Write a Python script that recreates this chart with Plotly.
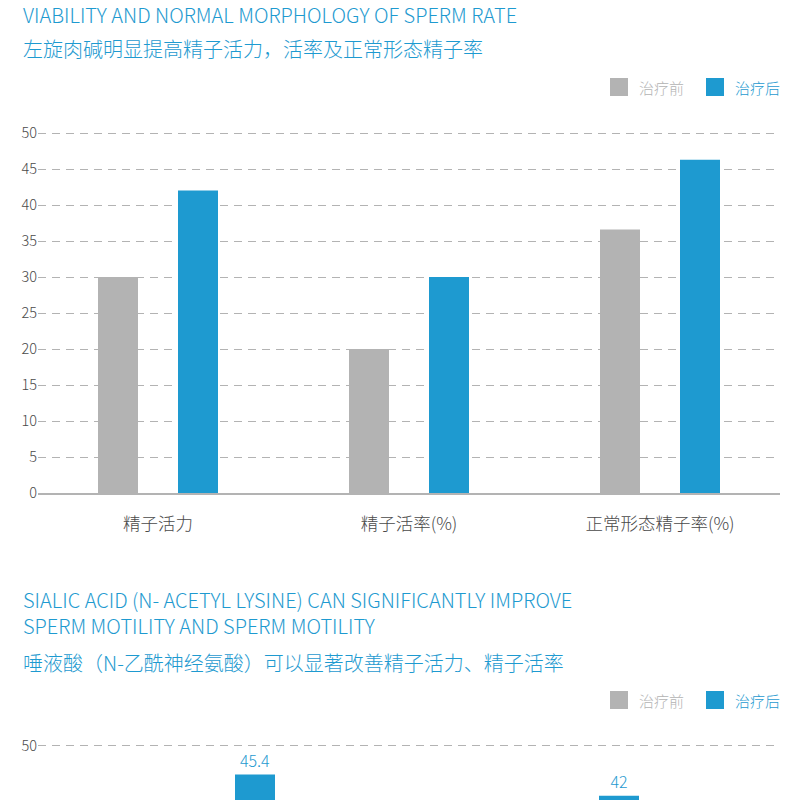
import plotly.graph_objects as go

# chart 1 data
cats_top = ["精子活力", "精子活率(%)", "正常形态精子率(%)"]
before_top = [30, 20, 36.6]
after_top = [42, 30, 46.3]

# chart 2 data (only the top of it is on screen)
cats_bot = ["精子活力", "精子活率"]
before_bot = [28.5, 24.6]
after_bot = [45.4, 42]

series_names = ["治疗前", "治疗后"]
yticks_top = [0, 5, 10, 15, 20, 25, 30, 35, 40, 45, 50]

GRAY = "#b3b3b3"
BLUE = "#1e9ad0"
TXT = "#4a4a4a"
FONT = "Noto Sans CJK SC"

W, H = 800, 800
L, R = 38, 20
PW = W - L - R


def px(x):
    return (x - L) / PW


def py(y):
    return 1 - y / H


fig = go.Figure()

# top chart: 251 px per category
u1 = 251.0
for vals, col, off in [(before_top, GRAY, -60), (after_top, BLUE, 20)]:
    fig.add_trace(go.Bar(x=cats_top, y=vals, marker=dict(color=col, line=dict(width=0)),
                         width=40 / u1, offset=off / u1, xaxis="x", yaxis="y",
                         showlegend=False, hoverinfo="y"))

# bottom chart: 364 px per category, value labels on the blue bars
u2 = 364.0
fig.add_trace(go.Bar(x=cats_bot, y=before_bot, marker=dict(color=GRAY, line=dict(width=0)),
                     width=40 / u2, offset=-60 / u2, xaxis="x2", yaxis="y2",
                     showlegend=False, hoverinfo="y"))
fig.add_trace(go.Bar(x=cats_bot, y=after_bot, marker=dict(color=BLUE, line=dict(width=0)),
                     width=40 / u2, offset=20 / u2, xaxis="x2", yaxis="y2",
                     texttemplate="%{y}", textposition="outside",
                     textfont=dict(color=BLUE, size=16, family=FONT, weight=300),
                     cliponaxis=True, showlegend=False, hoverinfo="y"))

r0 = 1 - (409 - L) / u1
r0b = -(215 - L) / u2

# y scales: top 50 -> y=133, 0 -> y=493 ; bottom 50 -> y=746, bottom edge ~41.3
k1 = (493 - 133) / 50.0
top1 = 133 - 0.2 * k1
k2 = (800 - 746) / (50 - 41.3)
top2 = 746 - 0.2 * k2

grid = dict(showgrid=True, gridcolor=GRAY, griddash="8px,6px", gridwidth=1.2,
            zeroline=False, showline=False, ticks="", automargin=False,
            tickfont=dict(size=14.5, color=TXT, family=FONT, weight=300))

fig.update_layout(
    width=W, height=H, margin=dict(l=L, r=R, t=0, b=0),
    paper_bgcolor="white", plot_bgcolor="white",
    barmode="overlay", showlegend=False,
    font=dict(family=FONT, color=TXT),
    xaxis=dict(domain=[0, 1], range=[r0, r0 + PW / u1], showgrid=False, zeroline=False,
               showline=True, linecolor=GRAY, linewidth=2, ticks="outside", ticklen=14,
               tickcolor="rgba(0,0,0,0)", automargin=False,
               tickfont=dict(size=17.5, color=TXT, family=FONT, weight=300), anchor="y"),
    yaxis=dict(domain=[py(493), py(top1)], range=[0, 50.2], tickvals=yticks_top,
               anchor="x", **grid),
    xaxis2=dict(domain=[0, 1], range=[r0b, r0b + PW / u2], showgrid=False,
                zeroline=False, showline=False, showticklabels=False,
                automargin=False, anchor="y2"),
    yaxis2=dict(domain=[0, py(top2)], range=[41.3, 50.2], dtick=10, tick0=0,
                anchor="x2", **grid),
)

# titles
titles = [
    ("VIABILITY AND NORMAL MORPHOLOGY OF SPERM RATE", 14.5),
    ("左旋肉碱明显提高精子活力，活率及正常形态精子率", 48),
    ("SIALIC ACID (N- ACETYL LYSINE) CAN SIGNIFICANTLY IMPROVE<br>"
     "SPERM MOTILITY AND SPERM MOTILITY", 612),
    ("唾液酸（N-乙酰神经氨酸）可以显著改善精子活力、精子活率", 662),
]
for t, y in titles:
    fig.add_annotation(text=t, x=px(21), y=py(y), xref="paper", yref="paper",
                       xanchor="left", yanchor="middle", align="left", showarrow=False,
                       font=dict(size=20, color=BLUE, family=FONT, weight=300))

# legends
for yc in [87, 700]:
    for name, col, x0 in zip(series_names, [GRAY, BLUE], [610, 706]):
        fig.add_shape(type="rect", xref="paper", yref="paper",
                      x0=px(x0), x1=px(x0 + 18), y0=py(yc - 9), y1=py(yc + 9),
                      fillcolor=col, line=dict(width=0))
        fig.add_annotation(text=name, x=px(x0 + 27), y=py(yc), xref="paper", yref="paper",
                           xanchor="left", yanchor="middle", showarrow=False,
                           font=dict(size=15, color=col, family=FONT, weight=300))

# no default body margin so the figure sits in the page corner
fig.write_html("out.html", config={"displayModeBar": False},
               post_script="document.body.style.margin='0';")
